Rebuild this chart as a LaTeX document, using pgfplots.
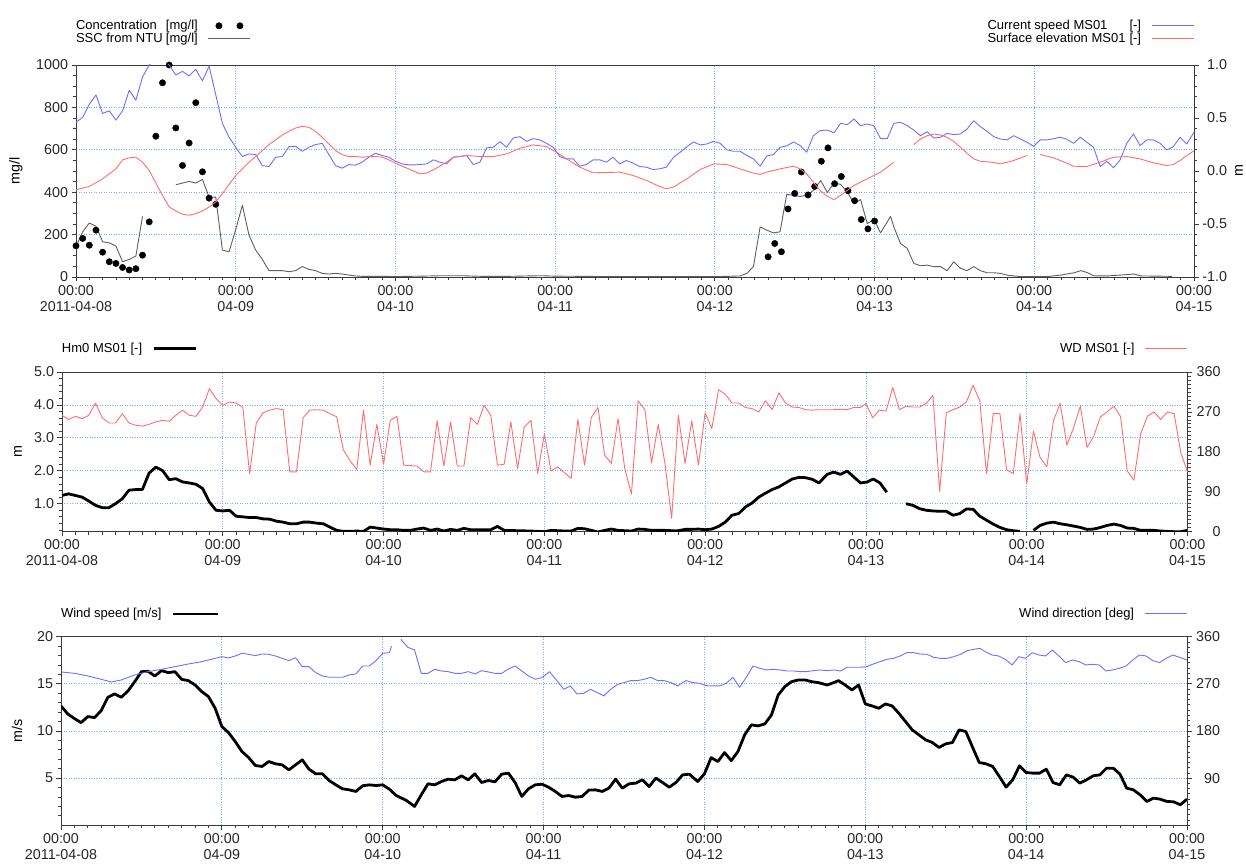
\documentclass[border=0pt]{standalone}
\usepackage{fontspec}
\setmainfont{Liberation Sans}
\setsansfont{Liberation Sans}
\usepackage{pgfplots}
\pgfplotsset{compat=1.18}

\definecolor{cspeed}{RGB}{110,110,255}
\definecolor{celev}{RGB}{255,110,110}
\definecolor{cssc}{RGB}{95,95,95}
\definecolor{cgrid}{RGB}{110,175,255}
\definecolor{caxis}{RGB}{60,60,60}

\pgfplotsset{
  panel/.style={
    scale only axis, xmin=0, xmax=168,
    axis line style={caxis, line width=0.9pt},
    tick style={caxis, line width=0.8pt},
    tick align=outside,
    major tick length=4.5pt, minor tick length=3pt,
    /pgf/number format/assume math mode=true,
    /pgf/number format/1000 sep={},
    tick label style={font=\fontsize{14.3}{16}\selectfont, text=black!85},
    label style={font=\fontsize{14.3}{16}\selectfont},
    unbounded coords=jump,
    legend cell align=left, legend plot pos=right,
    legend style={draw=none, fill=none, inner sep=0pt, outer sep=0pt,
      font=\fontsize{13}{15}\selectfont, column sep=10pt, row sep=2.2pt,
      nodes={inner sep=0pt}},
    legend image code/.code={\draw[#1] (0pt,0pt) -- (42pt,0pt);},
  },
  leftax/.style={panel,
    xtick={0,24,...,168}, minor x tick num=11,
    xticklabels={{00:00\\2011-04-08},{00:00\\04-09},{00:00\\04-10},{00:00\\04-11},
      {00:00\\04-12},{00:00\\04-13},{00:00\\04-14},{00:00\\04-15}},
    xticklabel style={align=center},
    xtick pos=bottom, ytick pos=left,
    grid=major, grid style={cgrid, dash pattern=on 1pt off 1.5pt, line width=0.8pt},
    legend style={at={(0,1)}, anchor=south west},
  },
  rightax/.style={panel, axis x line=none, axis y line*=right,
    yticklabel style={text width=25pt, align=right},
    legend style={at={(1,1)}, anchor=south east},
  },
  thin/.style={line width=0.9pt, line join=round},
  thick/.style={line width=2.8pt, line join=round, black},
}

\begin{document}
\begin{tikzpicture}
\useasboundingbox (0,0) rectangle (1246pt,866pt);

% ---------------- panel 1: concentration / current ----------------
\begin{axis}[leftax, at={(76pt,589pt)}, width=1118pt, height=212pt,
  ymin=0, ymax=1000, ytick={0,200,...,1000}, minor y tick num=3,
  ylabel={mg/l}, ylabel style={at={(axis description cs:-0.0537,0.5)}, anchor=center, rotate=0},
  clip=false, legend style={yshift=20.6pt}]
\addplot[only marks, mark=*, mark size=3.2pt, black,
  legend image code/.code={\fill[black] (10.7pt,0pt) circle (3.2pt) (31.7pt,0pt) circle (3.2pt);}]
  coordinates {(0,147)(1,182)(2,150)(3,221)(4,117)(5,72)(6,64)(7,45)(8,33)(9,39)(10,103)
  (11,260)(12,664)(13,916)(14,1000)(15,703)(16,526)(17,632)(18,822)(19,496)(20,372)(21,343)
  (104,95)(105,158)(106,119)(107,321)(108,394)(109,495)(110,387)(111,427)(112,546)(113,609)
  (114,440)(115,474)(116,407)(117,360)(118,271)(119,227)(120,264)};
\addlegendentry{\makebox[90pt][l]{Concentration}[mg/l]}
\addplot[thin, cssc] coordinates {(0,142)(1,213)(2,255)(3,239)(4,166)(5,161)(6,146)(7,72)(8,83)
  (9,99)(10,286)(12.5,nan)(15,435)(16,443)(17,451)(18,443)(19,460)(20,377)(21,377)(22,127)
  (23,119)(24,224)(25,338)(26,197)(27,127)(28,83)(29,30)(30,30)(31,30)(32,25)(33,30)(34,49)
  (35,36)(36,30)(37,17)(38,14)(39,17)(40,14)(41,9)(42,5)(43,3)(46,3)(48,2)(52,4)(55,6)(58,6)
  (61,3)(65,3)(68,5)(70,6)(72,4)(76,3)(80,2)(84,2)(88,2)(92,2)(96,2)(98,3)(99.8,5)(100.8,17)
  (101.8,49)(102.8,236)(103.8,221)(104.8,208)(105.8,213)(106.8,390)(107.8,385)(108.8,380)
  (109.8,385)(110.8,408)(111.9,455)(112.9,399)(113.9,443)(114.9,437)(115.9,401)(116.9,346)
  (117.9,365)(118.9,252)(119.9,271)(120.9,208)(121.9,260)(122.4,286)(122.9,236)(123.9,158)
  (124.9,135)(125.9,64)(126.9,53)(127.9,56)(128.9,49)(129.9,49)(130.9,30)(131.9,72)(132.9,41)
  (133.9,30)(134.9,49)(135.9,30)(136.9,20)(137.9,20)(138.9,17)(139.9,9)(140.9,5)(141.9,2)
  (146,2)(148,9)(150,20)(151,30)(152,20)(153,5)(155,5)(157,9)(159,14)(160,5)(164.7,3)};
\addlegendentry{\makebox[90pt][l]{SSC from NTU}[mg/l]}
\end{axis}

\begin{axis}[rightax, at={(76pt,589pt)}, width=1118pt, height=212pt,
  ymin=-1, ymax=1, ytick={-1,-0.5,0,0.5,1}, minor y tick num=4,
  yticklabel style={/pgf/number format/.cd, fixed, fixed zerofill, precision=1},
  ylabel={m}, ylabel style={at={(axis description cs:1.0403,0.5)}, anchor=center, rotate=0},
  legend style={yshift=20.6pt}]
\addplot[thin, cspeed] coordinates {(0,0.459)(1,0.505)(2,0.63)(3,0.718)(4,0.543)(5,0.568)(6,0.48)
  (7,0.568)(8,0.762)(9,0.668)(10,0.887)(11,1.0)(12,1.08)(13,1.06)(14,1.0)(15,0.905)(16,0.94)
  (17,0.897)(18,0.959)(19,0.85)(20,0.99)(21,0.72)(22,0.449)(23,0.318)(24,0.224)(25,0.136)
  (26,0.161)(27,0.155)(28,0.05)(29,0.042)(30,0.13)(31,0.136)(32,0.23)(33,0.233)(34,0.186)
  (35,0.224)(36,0.249)(37,0.261)(38,0.155)(39,0.05)(40,0.027)(41,0.06)(42,0.055)(43,0.083)
  (44,0.13)(45,0.167)(46,0.146)(47,0.13)(48,0.092)(49,0.067)(50,0.058)(51,0.058)(52.7,0.067)
  (53.7,0.105)(54.7,0.083)(55.7,0.067)(56.7,0.13)(57.7,0.136)(58.7,0.146)(59.7,0.061)(60.7,0.083)
  (61.7,0.218)(62.7,0.224)(63.7,0.277)(64.7,0.224)(65.7,0.311)(66.7,0.324)(67.7,0.28)(68.7,0.305)
  (69.7,0.293)(70.7,0.261)(71.7,0.224)(72.7,0.136)(73.7,0.114)(74.7,0.114)(75.7,0.045)(76.7,0.061)
  (77.7,0.105)(78.7,0.105)(79.7,0.083)(80.7,0.13)(81.7,0.067)(82.7,0.099)(83.7,0.074)(84.7,0.042)
  (85.7,0.036)(86.7,0.014)(87.7,0.02)(88.7,0.036)(89.8,0.13)(90.8,0.177)(91.8,0.23)(92.8,0.274)
  (93.8,0.246)(94.8,0.255)(95.8,0.28)(96.8,0.261)(97.8,0.199)(98.8,0.186)(99.8,0.186)(100.8,0.146)
  (101.8,0.114)(102.8,0.045)(103.8,0.142)(104.8,0.155)(105.8,0.224)(106.8,0.236)(107.8,0.274)
  (108.8,0.24)(109.8,0.177)(110.8,0.333)(111.8,0.38)(112.9,0.386)(113.9,0.36)(114.9,0.45)
  (115.9,0.437)(116.9,0.49)(117.9,0.427)(118.9,0.443)(119.9,0.427)(120.9,0.305)(121.9,0.305)
  (122.9,0.45)(123.9,0.459)(124.9,0.427)(125.9,0.386)(126.9,0.333)(127.9,0.371)(128.9,0.311)
  (129.9,0.318)(130.9,0.355)(131.9,0.343)(132.9,0.349)(133.9,0.396)(134.9,0.474)(135.9,0.418)
  (136.9,0.374)(137.9,0.324)(138.9,0.302)(139.9,0.293)(140.9,0.333)(141.9,0.302)(142.9,0.271)
  (143.9,0.233)(144.9,0.293)(145.9,0.293)(146.9,0.305)(147.9,0.318)(148.9,0.299)(149.9,0.261)
  (150.9,0.318)(151.9,0.271)(152.9,0.224)(153.9,0.042)(154.9,0.092)(155.9,0.03)(156.9,0.105)
  (157.9,0.261)(158.9,0.349)(159.9,0.24)(160.9,0.293)(161.9,0.293)(162.9,0.261)(163.9,0.199)
  (164.9,0.23)(165.9,0.318)(166.9,0.255)(168,0.365)};
\addlegendentry{\makebox[142pt][l]{Current speed MS01}[-]}
\addplot[thin, celev] coordinates {(0,-0.177)(2,-0.146)(4,-0.074)(6,0.02)(7,0.105)(8,0.124)(9,0.13)
  (10,0.083)(11,0.005)(12,-0.114)(13,-0.23)(14,-0.34)(15,-0.377)(16,-0.408)(17,-0.418)(18,-0.402)
  (19,-0.377)(20,-0.34)(21,-0.293)(22,-0.214)(23,-0.127)(24,-0.042)(25,0.02)(26,0.083)(27,0.136)
  (28,0.192)(29,0.249)(30,0.293)(31,0.34)(32,0.374)(33,0.405)(34,0.421)(35,0.412)(36,0.374)
  (37,0.318)(38,0.255)(39,0.192)(40,0.155)(41,0.136)(42,0.136)(43,0.13)(44,0.136)(45,0.136)
  (46,0.13)(47,0.105)(48,0.074)(49,0.045)(50,0.02)(51.7,-0.027)(52.7,-0.02)(53.7,0.011)(55.7,0.083)
  (56.7,0.13)(58.7,0.146)(60.7,0.136)(62.7,0.136)(64.7,0.161)(66.7,0.214)(68.7,0.246)(70.7,0.23)
  (72.2,0.177)(73.7,0.114)(75.7,0.036)(77.7,-0.017)(79.7,-0.014)(81.7,-0.011)(83.7,-0.042)
  (85.7,-0.089)(87.7,-0.146)(88.7,-0.167)(89.8,-0.152)(91.8,-0.074)(93.8,0.014)(95.8,0.067)
  (97.8,0.061)(99.8,0.02)(101.8,-0.02)(102.8,-0.033)(103.8,-0.011)(105.8,0.02)(107.8,0.045)
  (108.8,0.02)(109.8,-0.027)(110.8,-0.105)(111.8,-0.183)(112.9,-0.239)(113.9,-0.271)(114.9,-0.23)
  (115.9,-0.183)(116.9,-0.136)(117.9,-0.105)(118.9,-0.074)(119.9,-0.042)(120.9,-0.011)(121.9,0.036)
  (122.9,0.083)(124.5,nan)(125.9,0.249)(126.9,0.302)(127.9,0.333)(128.9,0.349)(129.9,0.34)
  (130.9,0.318)(131.9,0.28)(132.9,0.224)(133.9,0.167)(134.9,0.114)(135.9,0.092)(137.9,0.08)
  (138.9,0.067)(140.9,0.099)(142.9,0.146)(143.9,nan)(144.9,0.155)(146.9,0.124)(148.9,0.074)
  (149.9,0.045)(151.9,0.042)(153.9,0.083)(155.9,0.13)(157.9,0.136)(159.9,0.114)(161.9,0.077)
  (163.9,0.052)(164.9,0.061)(165.9,0.099)(168,0.192)};
\addlegendentry{\makebox[142pt][l]{Surface elevation MS01}[-]}
\end{axis}

% ---------------- panel 2: waves ----------------
\begin{axis}[leftax, at={(62pt,334.3pt)}, width=1125.5pt, height=159.7pt,
  ymin=0.15, ymax=5, ytick={1,2,3,4,5}, minor ytick={0.2,0.4,...,4.9},
  yticklabel style={/pgf/number format/.cd, fixed, fixed zerofill, precision=1},
  ylabel={m}, ylabel style={at={(axis description cs:-0.0391,0.5)}, anchor=center, rotate=0},
  legend style={yshift=18.3pt}]
\addplot[thick] coordinates {(0,1.25)(1,1.30)(2,1.25)(3,1.20)(4,1.08)(5,0.95)(6,0.88)(7,0.88)(8,1.0)
  (9,1.15)(10,1.41)(11,1.43)(12,1.43)(13,1.93)(14,2.11)(15,2.01)(16,1.73)(17,1.76)(18,1.66)(19,1.63)
  (20,1.59)(21,1.46)(22,1.05)(23,0.80)(24,0.78)(25,0.80)(26,0.62)(27,0.60)(28,0.58)(29,0.58)(30,0.54)
  (31,0.53)(32,0.47)(33,0.44)(34,0.39)(35,0.39)(36,0.44)(37,0.44)(38,0.41)(39,0.39)(40,0.29)(41,0.19)
  (42,0.16)(43,0.16)(44,0.17)(45,0.16)(46,0.29)(47,0.26)(48,0.23)(49,0.21)(50,0.21)(51,0.19)(52,0.19)
  (53,0.23)(54,0.26)(55,0.19)(56,0.23)(57,0.17)(58,0.22)(59,0.19)(60,0.25)(61,0.21)(62,0.21)(64,0.21)
  (65,0.31)(66,0.19)(68,0.18)(70,0.17)(72,0.15)(73,0.19)(75,0.17)(76,0.17)(77,0.25)(78,0.24)(79,0.19)
  (80,0.14)(81,0.19)(82,0.23)(83,0.19)(84,0.18)(85,0.17)(86,0.23)(87,0.22)(88,0.19)(90,0.19)(91,0.18)
  (92,0.18)(93,0.22)(94,0.22)(95,0.23)(96,0.21)(97,0.23)(98,0.31)(99,0.44)(100,0.65)(101,0.70)
  (102,0.90)(103,1.02)(104,1.20)(105,1.32)(106,1.43)(107,1.51)(108,1.63)(109,1.75)(110,1.80)
  (111,1.79)(112,1.74)(113,1.63)(114.2,1.89)(115.2,1.96)(116.2,1.89)(117.2,1.99)(118.2,1.81)
  (119.2,1.63)(120.2,1.66)(121.1,1.75)(122.1,1.63)(123.1,1.35)(124.5,nan)(126,1.0)(127,0.95)
  (128,0.85)(129,0.80)(130,0.78)(131,0.77)(132,0.77)(133,0.65)(134,0.70)(135,0.84)(136,0.83)
  (137,0.62)(138,0.50)(139,0.38)(140,0.28)(141,0.21)(142,0.18)(143,0.16)(144,nan)(145,0.19)
  (146,0.34)(147,0.41)(148,0.44)(149,0.39)(150,0.36)(151,0.32)(152,0.28)(153,0.22)(154,0.23)
  (155,0.28)(156,0.34)(157,0.38)(158,0.34)(159,0.26)(160,0.25)(161,0.19)(162,0.19)(163,0.19)
  (164,0.17)(165,0.16)(166,0.15)(167,0.15)(168,0.19)};
\addlegendentry{Hm0 MS01 [-]}
\end{axis}

\begin{axis}[rightax, at={(62pt,334.3pt)}, width=1125.5pt, height=159.7pt,
  ymin=0, ymax=360, ytick={0,90,...,360}, minor y tick num=9,
  legend style={yshift=18.3pt}]
\addplot[thin, celev] coordinates {(0,262.5)(1,252.75)(2,260)(3,255)(4,262.5)(5,290)(6,257)(7,245)
  (8,245)(9,266)(10,245)(11,240)(12,238)(13,242)(14,247.5)(15,251)(16,249)(17,262.5)(18,274)
  (19,262.5)(20,260)(21,281)(22,322.5)(23,300)(24,285)(25,292.5)(26,290)(27,280)(28,131)(29,245)
  (30,268)(31,274)(32,277.5)(33,275)(34,135)(35,135)(36,257)(37,274)(38,275)(39,274)(40,266)
  (41,259)(42,184)(43,160)(44,140)(45,274)(46,150)(47,242)(48,152)(49,251)(50,260)(51,150)
  (53,148)(54,135)(55,135)(56,250)(57,148)(58,247.5)(59,148)(60,148)(61,257)(62,242)(63,285)
  (64,262.5)(65,150)(66,152)(67,247.5)(68,142.5)(69,236)(70,251)(71,131)(72,220)(73,137)(74,146)
  (75,133)(76,120)(77,253)(78,150)(79,257)(80,280)(81,172.5)(82,154)(83,255)(84,142.5)(85,85)
  (86,295)(87,275)(88,155)(89,242)(90,154)(91,30)(92,262.5)(93,154)(94,250)(95,150)(96,268)
  (97,232.5)(98,320)(99,310)(100,290)(101,290)(102,280)(103,277.5)(104,270)(105,295)(106,275)
  (107,313)(108,290)(109,281)(110,280)(111,275)(112,274)(113,275)(114.2,275)(115.2,275)
  (116.2,276)(117.2,275)(118.2,280)(119.2,280)(120,289)(121,257)(122,274)(123,272)(124,325)
  (125,275)(126,283)(127,281)(128,281)(129,289)(130,307.5)(131,90)(132,268)(133,275)(134,281)
  (135,292.5)(136,330)(137,295)(138,130)(139,266)(140,266)(141,139)(142,131)(143,266)(144,107)
  (145,227)(146,167)(147,146)(148,251)(149,289)(150,195)(151,235)(152,283)(153,190)(154,215)
  (155,259)(156,270)(157,283)(158,260)(159,137)(160,116)(161,220)(162,260)(163,270)(164,253)
  (165,270)(166,266)(167,178)(168,135)};
\addlegendentry{WD MS01 [-]}
\end{axis}

% ---------------- panel 3: wind ----------------
\begin{axis}[leftax, at={(61pt,40.7pt)}, width=1126pt, height=188.6pt,
  ymin=0, ymax=20, ytick={5,10,15,20}, minor ytick={1,2,...,19},
  ylabel={m/s}, ylabel style={at={(axis description cs:-0.0391,0.5)}, anchor=center, rotate=0},
  legend style={yshift=17.3pt},
  legend image code/.code={\draw[#1] (0pt,0pt) -- (45pt,0pt);}]
\addplot[thick] coordinates {(0,12.66)(1,11.81)(2,11.32)(3,10.89)(4,11.53)(5,11.42)(6,12.16)(7,13.58)
  (8,13.93)(9,13.58)(10,14.25)(11,15.23)(12,16.29)(13,16.33)(14,15.83)(15,16.40)(16,16.19)(17,16.29)
  (18,15.48)(19,15.34)(20,14.88)(21,14.18)(22,13.65)(23,12.41)(24,10.47)(25,9.83)(26,8.88)(27,7.82)
  (28,7.18)(29,6.34)(30,6.24)(31,6.76)(32,6.52)(33,6.41)(34,5.88)(35,6.41)(36,6.94)(37,5.95)(38,5.46)
  (39,5.46)(40,4.75)(41,4.29)(42,3.87)(43,3.76)(44,3.59)(45,4.19)(46,4.29)(47,4.22)(48,4.29)(49,3.83)
  (50,3.16)(51.5,2.65)(52.75,2.0)(53.75,3.23)(54.75,4.40)(55.75,4.29)(56.75,4.64)(57.75,4.89)
  (58.75,4.82)(59.75,5.25)(60.75,4.82)(61.75,5.46)(62.75,4.54)(63.75,4.75)(64.75,4.61)(65.75,5.42)
  (66.75,5.53)(67.75,4.54)(68.75,3.06)(69.75,3.87)(70.75,4.29)(71.75,4.36)(72.75,4.04)(73.75,3.59)
  (74.75,3.06)(75.75,3.16)(76.75,2.98)(77.75,3.06)(78.75,3.73)(79.75,3.76)(80.75,3.59)(81.75,3.94)
  (82.75,4.89)(83.75,3.94)(84.75,4.40)(85.75,4.47)(86.75,4.82)(87.75,4.11)(88.75,5.0)(89.75,4.54)
  (90.75,4.04)(91.75,4.54)(92.75,5.35)(93.75,5.42)(95,4.64)(96,5.46)(97,7.18)(98,6.76)(99,7.71)
  (100,6.86)(101,7.82)(102,9.59)(103,10.65)(104,10.54)(105,10.75)(106,11.70)(107,13.82)(108,14.71)
  (109,15.23)(110,15.41)(111,15.41)(112,15.23)(113,15.13)(114.3,14.88)(115.3,15.13)(116,15.34)
  (117,14.88)(118,14.35)(119,14.88)(120,12.87)(121,12.66)(122,12.41)(123,12.87)(124,12.66)(125,11.88)
  (126,11.0)(127,10.12)(128,9.59)(129,9.06)(130,8.78)(131,8.25)(132,8.64)(133,8.78)(134,10.12)
  (135,9.94)(136,8.28)(137,6.66)(138,6.52)(139,6.24)(140,5.18)(141,4.05)(142,4.82)(143,6.31)
  (144,5.60)(145,5.53)(146,5.53)(147,5.95)(148,4.54)(149,4.29)(150,5.35)(151,5.11)(152,4.47)
  (153,4.82)(154,5.25)(155,5.35)(156,6.06)(157,6.06)(158,5.42)(159,3.94)(160,3.76)(161,3.23)
  (162,2.53)(163,2.88)(164,2.77)(165,2.53)(166,2.49)(167,2.18)(168,2.77)};
\addlegendentry{Wind speed [m/s]}
\end{axis}

\begin{axis}[rightax, at={(61pt,40.7pt)}, width=1126pt, height=188.6pt,
  ymin=0, ymax=360, ytick={90,180,270,360}, minor ytick={0,10,...,350},
  legend style={yshift=17.3pt}]
\addplot[thin, cspeed] coordinates {(0,292.7)(2,290.1)(4,285.1)(6,278.7)(7.5,273.6)(9,277.4)(11,287.0)
  (13,293.3)(15,297.8)(17,302.8)(19,307.9)(21,312.4)(23,318.7)(24,321.9)(25,319.4)(26,323.2)
  (27,328.3)(28,326.4)(29,323.8)(30,327.0)(31,326.4)(32,323.2)(33,318.7)(34,314.3)(35,320.0)
  (36,302.8)(37,302.8)(38,291.4)(39,285.1)(40,282.5)(41,282.5)(42,282.5)(43,287.0)(44,288.9)
  (45,304.1)(46,304.1)(47,314.3)(48,328.3)(49,329.5)(49.3,342)(50,nan)(50.7,355)(51.75,339.7)
  (52.75,334.6)(53.75,290.1)(54.75,290.1)(55.75,297.8)(56.75,294.6)(57.75,293.3)(58.75,290.1)
  (59.75,290.1)(60.75,293.3)(61.75,288.9)(62.75,295.2)(63.75,292.7)(64.75,290.1)(65.75,290.1)
  (66.75,298.4)(67.75,304.1)(68.75,294.6)(69.75,285.1)(70.75,278.7)(71.75,281.9)(72.9,293.3)
  (73.9,277.4)(75,259.6)(76,266.0)(77,250.7)(78,252.0)(79,259.6)(80,253.3)(81,247.0)(82,259.6)
  (83,268.5)(84,272.4)(85,276.2)(86,276.2)(87,278.7)(88,282.5)(89,276.2)(90,276.2)(91,272.4)
  (92,266.0)(93.25,276.2)(94.25,272.4)(95.25,271.1)(96.25,266.6)(97.25,266.0)(98.25,266.0)
  (99.25,271.1)(100.25,282.5)(101.25,263.4)(102.25,282.5)(103.25,304.1)(104.25,299.7)(105.25,296.5)
  (106.25,297.8)(107.25,296.5)(108.25,294.6)(109.25,294.6)(110.25,293.3)(111.25,293.3)(112.25,295.2)
  (113.3,296.5)(114.3,295.2)(115.3,296.5)(116.3,294.6)(117.3,301.6)(118.3,301.6)(119.3,301.6)
  (120.2,302.8)(121.2,307.9)(122.2,312.4)(123.2,316.8)(124.2,318.7)(125.2,323.2)(126.2,329.5)
  (127.2,329.5)(128.2,327.0)(129.2,326.4)(130.2,320.6)(131.2,318.7)(132.2,318.7)(133.2,321.9)
  (134.2,326.4)(135.2,333.4)(136.2,335.9)(137.1,337.8)(137.9,331.4)(138.9,325.1)(139.9,323.2)
  (140.9,316.8)(141.9,306.0)(142.9,321.9)(143.9,318.7)(144.9,329.5)(145.9,325.1)(146.9,323.2)
  (147.9,334.6)(148.9,323.2)(149.9,310.5)(150.9,315.5)(151.9,312.4)(152.9,306.0)(153.9,307.3)
  (154.9,306.0)(155.9,294.6)(156.9,296.5)(157.9,299.7)(158.9,304.1)(159.9,315.5)(160.9,325.1)
  (161.9,323.2)(162.9,314.3)(163.9,310.5)(164.9,318.7)(165.9,325.1)(166.9,320.6)(168,315.5)};
\addlegendentry{Wind direction [deg]}
\end{axis}
\end{tikzpicture}
\end{document}
